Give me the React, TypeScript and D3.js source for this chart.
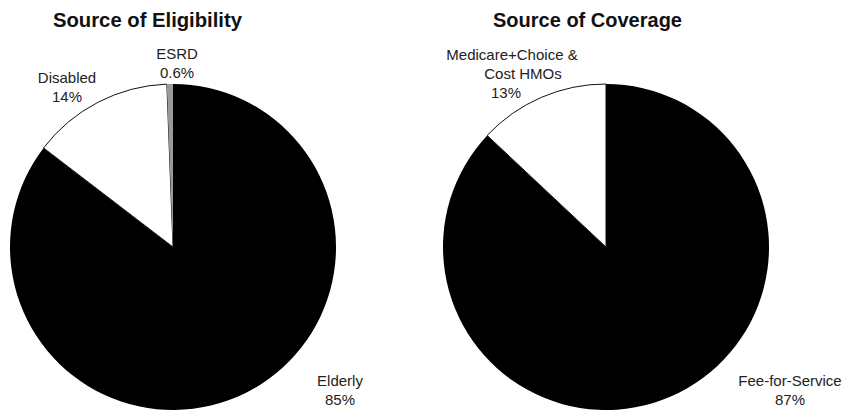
import { useEffect, useRef } from 'react';
import * as d3 from 'd3';

// left pie: source of eligibility
const eligibilityLabels = ['Elderly', 'Disabled', 'ESRD'];
const eligibilityValues = [85.4, 14, 0.6];
const eligibilityText = ['85%', '14%', '0.6%'];

// right pie: source of coverage
const coverageLabels = ['Fee-for-Service', 'Medicare+Choice & Cost HMOs'];
const coverageValues = [87, 13];
const coverageText = ['87%', '13%'];

const sliceFill: Record<string, string> = {
  Elderly: '#000',
  Disabled: '#fff',
  ESRD: '#9a9a9a',
  'Fee-for-Service': '#000',
  'Medicare+Choice & Cost HMOs': '#fff',
};

interface PieSpec {
  title: string;
  titleX: number;
  titleLen: number;
  cx: number;
  cy: number;
  labels: string[];
  values: number[];
  text: string[];
  // label lines placed by hand, one block per slice
  labelPos: { x: number[]; y: number; lines: string[] }[];
}

const W = 849;
const H = 412;

export default function App() {
  const svgRef = useRef<SVGSVGElement>(null);

  useEffect(() => {
    if (!svgRef.current) return;
    const svg = d3.select(svgRef.current);
    svg.selectAll('*').remove();

    const r = 163;

    const pies: PieSpec[] = [
      {
        title: 'Source of Eligibility',
        titleX: 53,
        titleLen: 189,
        cx: 173,
        cy: 247,
        labels: eligibilityLabels,
        values: eligibilityValues,
        text: eligibilityText,
        labelPos: [
          { x: [340, 340], y: 386, lines: [eligibilityLabels[0], eligibilityText[0]] },
          { x: [67, 67], y: 83, lines: [eligibilityLabels[1], eligibilityText[1]] },
          { x: [177, 177], y: 59, lines: [eligibilityLabels[2], eligibilityText[2]] },
        ],
      },
      {
        title: 'Source of Coverage',
        titleX: 493,
        titleLen: 189,
        cx: 606,
        cy: 247,
        labels: coverageLabels,
        values: coverageValues,
        text: coverageText,
        labelPos: [
          { x: [790, 790], y: 386, lines: [coverageLabels[0], coverageText[0]] },
          {
            x: [512, 523, 506],
            y: 60,
            lines: ['Medicare+Choice &', 'Cost HMOs', coverageText[1]],
          },
        ],
      },
    ];

    pies.forEach((p) => {
      svg
        .append('text')
        .attr('x', p.titleX)
        .attr('y', 27)
        .attr('textLength', p.titleLen)
        .attr('lengthAdjust', 'spacingAndGlyphs')
        .style('font-family', 'Liberation Sans, Arial, sans-serif')
        .style('font-weight', 'bold')
        .style('font-size', '20px')
        .style('fill', '#111')
        .text(p.title);

      const pie = d3
        .pie<number>()
        .sort(null)
        .value((d) => d);
      const arc = d3.arc<d3.PieArcDatum<number>>().innerRadius(0).outerRadius(r);

      const g = svg.append('g').attr('transform', `translate(${p.cx},${p.cy})`);
      g.selectAll('path')
        .data(pie(p.values))
        .enter()
        .append('path')
        .attr('d', arc)
        .attr('fill', (d, i) => sliceFill[p.labels[i]])
        .attr('stroke', (d, i) => (sliceFill[p.labels[i]] === '#fff' ? '#111' : 'none'))
        .attr('stroke-width', 1);

      p.labelPos.forEach((lp) => {
        lp.lines.forEach((line, j) => {
          svg
            .append('text')
            .attr('x', lp.x[j])
            .attr('y', lp.y + j * 19)
            .attr('text-anchor', 'middle')
            .style('font-family', 'Liberation Sans, Arial, sans-serif')
            .style('font-size', '15px')
            .style('fill', '#222')
            .text(line);
        });
      });
    });
  }, []);

  return (
    <svg
      ref={svgRef}
      width={W}
      height={H}
      style={{ position: 'absolute', left: 0, top: 0, background: '#fff' }}
    />
  );
}
